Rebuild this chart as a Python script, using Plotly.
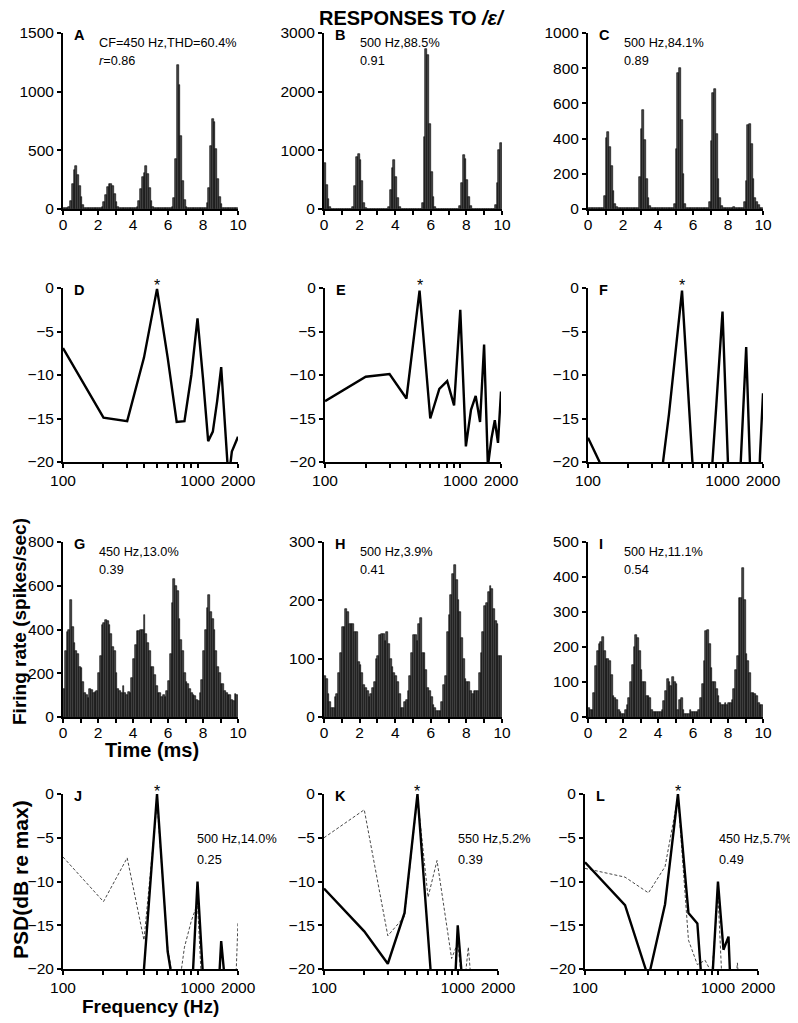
import plotly.graph_objects as go
from plotly.subplots import make_subplots

# page body has an 8px margin: draw an 790x1015 figure and shift coordinates by 8px
OFF = 8
W, H = 798 - OFF, 1023 - OFF

# ---------------- data ----------------
time_ms = [round(0.05 + 0.1 * i, 2) for i in range(100)]  # PSTH bin centres (0.1 ms bins)

rate_A = [5, 5, 5, 20, 70, 210, 330, 365, 290, 200,
          100, 35, 10, 5, 5, 5, 5, 5, 5, 5,
          5, 5, 20, 60, 120, 190, 210, 215, 200, 130,
          60, 20, 5, 5, 5, 5, 5, 5, 5, 5,
          5, 5, 20, 70, 170, 270, 310, 370, 300, 180,
          70, 20, 5, 5, 5, 5, 5, 5, 5, 5,
          5, 5, 20, 90, 430, 1230, 1060, 620, 235, 77,
          20, 5, 5, 5, 5, 5, 5, 5, 5, 5,
          5, 5, 50, 176, 540, 770, 745, 512, 256, 105,
          40, 10, 5, 5, 5, 5, 5, 5, 5, 5]
rate_B = [780, 410, 170, 30, 3, 3, 3, 3, 3, 3,
          3, 3, 3, 3, 3, 3, 30, 390, 890, 940,
          840, 470, 100, 20, 3, 3, 3, 3, 3, 3,
          3, 3, 3, 3, 3, 3, 30, 330, 700, 840,
          540, 180, 30, 3, 3, 3, 3, 3, 3, 3,
          3, 3, 3, 3, 3, 100, 1230, 2730, 2620, 1450,
          630, 200, 30, 3, 3, 3, 3, 3, 3, 3,
          3, 3, 3, 3, 3, 3, 50, 440, 920, 860,
          500, 200, 50, 3, 3, 3, 3, 3, 3, 3,
          3, 3, 3, 3, 3, 3, 60, 450, 1000, 1130]
rate_C = [5, 5, 5, 5, 5, 5, 5, 5, 5, 75,
          405, 435, 350, 245, 105, 30, 10, 5, 5, 5,
          5, 5, 5, 5, 5, 5, 5, 5, 5, 180,
          455, 560, 390, 170, 60, 15, 5, 5, 5, 5,
          5, 5, 5, 5, 5, 5, 5, 5, 5, 30,
          340, 770, 800, 505, 200, 30, 5, 5, 5, 5,
          5, 5, 5, 5, 5, 5, 5, 5, 5, 40,
          385, 660, 680, 425, 170, 60, 15, 5, 5, 5,
          5, 5, 5, 10, 5, 5, 5, 5, 5, 40,
          160, 480, 485, 370, 170, 60, 40, 20, 5, 5]
rate_G = [130, 300, 390, 400, 535, 410, 340, 300, 290, 230,
          225, 160, 110, 100, 85, 130, 125, 110, 115, 120,
          200, 280, 420, 430, 445, 440, 420, 380, 320, 300,
          200, 130, 120, 110, 140, 110, 100, 115, 110, 180,
          265, 330, 395, 395, 400, 400, 465, 380, 340, 300,
          230, 230, 190, 140, 110, 110, 90, 100, 90, 120,
          165, 290, 520, 630, 600, 575, 450, 350, 300, 200,
          160, 150, 130, 110, 100, 95, 80, 75, 110, 170,
          300, 400, 500, 560, 480, 450, 400, 300, 230, 200,
          150, 150, 120, 110, 100, 100, 80, 75, 105, 100]
rate_H = [70, 65, 40, 25, 15, 15, 35, 40, 75, 110,
          155, 155, 185, 180, 160, 160, 160, 145, 145, 95,
          90, 75, 55, 50, 45, 35, 40, 50, 60, 100,
          105, 140, 143, 143, 130, 145, 125, 100, 85, 75,
          70, 60, 40, 15, 15, 25, 30, 45, 70, 110,
          140, 140, 130, 160, 170, 110, 110, 80, 50, 45,
          35, 20, 15, 10, 10, 10, 25, 55, 70, 145,
          175, 210, 245, 260, 235, 200, 180, 135, 100, 65,
          60, 60, 45, 40, 45, 45, 45, 75, 110, 145,
          190, 195, 215, 225, 220, 185, 165, 160, 105, 105]
rate_I = [25, 20, 20, 70, 145, 190, 210, 215, 228, 190,
          165, 165, 160, 120, 60, 55, 50, 20, 15, 10,
          10, 20, 35, 55, 100, 150, 200, 235, 225, 190,
          135, 100, 100, 60, 60, 55, 20, 15, 15, 15,
          15, 15, 20, 45, 75, 110, 100, 90, 115, 100,
          95, 20, 50, 55, 20, 10, 10, 10, 20, 15,
          15, 15, 15, 20, 55, 95, 160, 245, 250, 210,
          140, 100, 100, 80, 60, 40, 35, 35, 40, 35,
          40, 40, 50, 80, 135, 175, 340, 340, 425, 335,
          180, 160, 125, 70, 70, 65, 60, 40, 35, 35]

freq_hz = [100, 200, 300, 400, 500, 600, 700, 800, 900, 1000,
           1100, 1200, 1300, 1400, 1500, 1600, 1700, 1800, 1900, 2000]

psd_D = [-6.9, -14.9, -15.3, -8.0, -0.1, -8.0, -15.4, -15.3, -10.0, -3.5,
         -10.5, -17.6, -16.5, -13.0, -9.1, -15.8, -22.0, -18.8, -17.8, -17.1]
psd_E = [-13.0, -10.2, -9.9, -12.7, -0.3, -15.0, -11.6, -10.7, -13.5, -2.5,
         -18.2, -14.0, -12.4, -15.4, -6.5, -20.5, -17.3, -15.2, -17.8, -11.9]
psd_F = [-17.2, -27.0, -30.0, -14.5, -0.3, -20.5, -30.0, -25.0, -13.4, -2.7,
         -20.5, -30.0, -27.0, -16.7, -6.8, -20.2, -30.0, -30.0, -19.3, -12.1]

psd_J_resp = [-30.0, -30.0, -30.0, -20.0, 0.0, -18.0, -25.0, -30.0, -24.0, -10.0,
              -21.0, -30.0, -30.0, -25.3, -16.8, -23.9, -30.0, -30.0, -30.0, -30.0]
psd_J_stim = [-7.2, -12.3, -7.3, -16.7, -1.0, -17.5, -24.0, -17.5, -14.5, -12.5,
              -25.0, -30.0, -30.0, -30.0, -30.0, -30.0, -30.0, -30.0, -24.0, -14.6]
psd_K_resp = [-10.8, -15.7, -19.4, -13.6, 0.0, -16.8, -30.0, -30.0, -30.0, -15.0,
              -25.0, -30.0, -30.0, -30.0, -30.0, -30.0, -30.0, -30.0, -30.0, -30.0]
psd_K_stim = [-5.0, -1.8, -16.2, -14.0, -0.3, -11.8, -7.6, -13.5, -18.8, -17.0,
              -23.0, -17.5, -25.0, -30.0, -30.0, -30.0, -30.0, -30.0, -30.0, -30.0]
psd_L_resp = [-7.8, -12.7, -21.0, -12.6, 0.0, -13.6, -14.8, -26.9, -22.0, -10.0,
              -17.8, -16.3, -29.2, -30.0, -30.0, -30.0, -30.0, -30.0, -30.0, -30.0]
psd_L_stim = [-8.5, -9.5, -11.3, -8.3, -0.3, -16.7, -19.5, -19.0, -20.5, -11.5,
              -25.0, -30.0, -25.0, -19.3, -25.0, -30.0, -30.0, -30.0, -30.0, -30.0]

hist_yticks = {
    "A": [0, 500, 1000, 1500], "B": [0, 1000, 2000, 3000], "C": [0, 200, 400, 600, 800, 1000],
    "G": [0, 200, 400, 600, 800], "H": [0, 100, 200, 300], "I": [0, 100, 200, 300, 400, 500],
}
psd_yticks = [-20, -15, -10, -5, 0]
time_ticks = [0, 1, 2, 3, 4, 5, 6, 7, 8, 9, 10]
time_ticktext = ["0", "", "2", "", "4", "", "6", "", "8", "", "10"]
freq_ticks = [100, 200, 300, 400, 500, 600, 700, 800, 900, 1000, 2000]
freq_ticktext = ["100", "", "", "", "", "", "", "", "", "1000", "2000"]

notes = {
    "A": ("CF=450 Hz,THD=60.4%", "<i>r</i>=0.86"),
    "B": ("500 Hz,88.5%", "0.91"),
    "C": ("500 Hz,84.1%", "0.89"),
    "G": ("450 Hz,13.0%", "0.39"),
    "H": ("500 Hz,3.9%", "0.41"),
    "I": ("500 Hz,11.1%", "0.54"),
    "J": ("500 Hz,14.0%", "0.25"),
    "K": ("550 Hz,5.2%", "0.39"),
    "L": ("450 Hz,5.7%", "0.49"),
}

# ---------------- layout geometry (window pixels) ----------------
FONT = "Liberation Sans, Arial, sans-serif"
rows_px = [(33, 209), (288, 462), (542, 717), (794, 969)]
cols_px = [
    [(63, 238), (324, 502), (588, 763)],
    [(63, 238), (325, 501), (588, 763)],
    [(63, 238), (324, 502), (588, 763)],
    [(63, 238), (324, 498), (585, 758)],
]

def px(x):
    return (x - OFF) / W

def py(y):
    return 1 - (y - OFF) / H

fig = make_subplots(rows=4, cols=3)

bar_style = dict(marker=dict(color="#484848", line=dict(color="black", width=0.6)))

hist_data = {(1, 1): ("A", rate_A), (1, 2): ("B", rate_B), (1, 3): ("C", rate_C),
             (3, 1): ("G", rate_G), (3, 2): ("H", rate_H), (3, 3): ("I", rate_I)}
for (r, c), (lab, vals) in hist_data.items():
    fig.add_trace(go.Bar(x=time_ms, y=vals, width=0.1, showlegend=False, **bar_style), row=r, col=c)

fig.add_trace(go.Scatter(x=freq_hz, y=psd_D, mode="lines", line=dict(color="black", width=2.4), showlegend=False), row=2, col=1)
fig.add_trace(go.Scatter(x=freq_hz, y=psd_E, mode="lines", line=dict(color="black", width=2.4), showlegend=False), row=2, col=2)
fig.add_trace(go.Scatter(x=freq_hz, y=psd_F, mode="lines", line=dict(color="black", width=2.4), showlegend=False), row=2, col=3)
for c, (resp, stim) in enumerate([(psd_J_resp, psd_J_stim), (psd_K_resp, psd_K_stim), (psd_L_resp, psd_L_stim)], start=1):
    fig.add_trace(go.Scatter(x=freq_hz, y=stim, mode="lines", line=dict(color="#333333", width=0.9, dash="3px,2px"), showlegend=False), row=4, col=c)
    fig.add_trace(go.Scatter(x=freq_hz, y=resp, mode="lines", line=dict(color="black", width=2.4), showlegend=False), row=4, col=c)

axis_common = dict(showline=True, linecolor="black", linewidth=2, ticks="outside", tickcolor="black",
                   tickwidth=1.5, ticklen=4, showgrid=False, zeroline=False, mirror=False,
                   automargin=False,
                   tickfont=dict(family=FONT, size=15.5, color="black"))

def note(x, y, text, size, xanchor="left", angle=0):
    fig.add_annotation(x=px(x), y=py(y), xref="paper", yref="paper", text=text, textangle=angle,
                       showarrow=False, xanchor=xanchor, yanchor="middle",
                       font=dict(family=FONT, size=size, color="black"))

letters = [["A", "B", "C"], ["D", "E", "F"], ["G", "H", "I"], ["J", "K", "L"]]
for r in range(4):
    for c in range(3):
        n = r * 3 + c + 1
        xs = "xaxis" if n == 1 else f"xaxis{n}"
        ys = "yaxis" if n == 1 else f"yaxis{n}"
        x0, x1 = cols_px[r][c]
        y0, y1 = rows_px[r]
        lab = letters[r][c]
        if r in (0, 2):
            yt = hist_yticks[lab]
            fig.layout[xs].update(domain=[px(x0), px(x1)], range=[0, 10], tickvals=time_ticks,
                                  ticktext=time_ticktext, ticklabelstandoff=-4, **axis_common)
            fig.layout[ys].update(domain=[py(y1), py(y0)], range=[0, yt[-1]], tickvals=yt, **axis_common)
        else:
            fig.layout[xs].update(domain=[px(x0), px(x1)], type="log", range=[2, 3.30103],
                                  tickvals=freq_ticks, ticktext=freq_ticktext, ticklabelstandoff=-1,
                                  **axis_common)
            fig.layout[ys].update(domain=[py(y1), py(y0)], range=[-20, 0], tickvals=psd_yticks, **axis_common)
        # panel letter
        note(x0 + 9, y0 + 2, f"<b>{lab}</b>", 14.5)
        if lab in notes:
            t1, t2 = notes[lab]
            if r == 3:
                tx, ty1, ty2 = x0 + 132, 839, 860
            else:
                tx, ty1, ty2 = x0 + 34, y0 + 10, y0 + 28
            note(tx, ty1, t1, 12.7)
            note(tx, ty2, t2, 12.7)
        if r in (1, 3):
            fig.add_annotation(x=2.69897, y=0, xref=xs.replace("axis", ""), yref=ys.replace("axis", ""),
                               text="*", showarrow=False, xanchor="center", yanchor="middle", yshift=3,
                               font=dict(family=FONT, size=16, color="black"))

# axis titles & main title
note(412, 18, "<b>RESPONSES TO <i>/ɛ/</i></b>", 20, xanchor="center")
note(19, 622, "<b>Firing rate (spikes/sec)</b>", 19, xanchor="center", angle=-90)
note(152, 750, "<b>Time (ms)</b>", 20, xanchor="center")
note(20, 880, "<b>PSD(dB re max)</b>", 21, xanchor="center", angle=-90)
note(150, 1006, "<b>Frequency (Hz)</b>", 19, xanchor="center")

fig.update_layout(width=W, height=H, margin=dict(l=0, r=0, t=0, b=0, pad=0, autoexpand=False),
                  paper_bgcolor="white", plot_bgcolor="white", bargap=0,
                  font=dict(family=FONT, color="black"))

fig.write_html("out.html")
